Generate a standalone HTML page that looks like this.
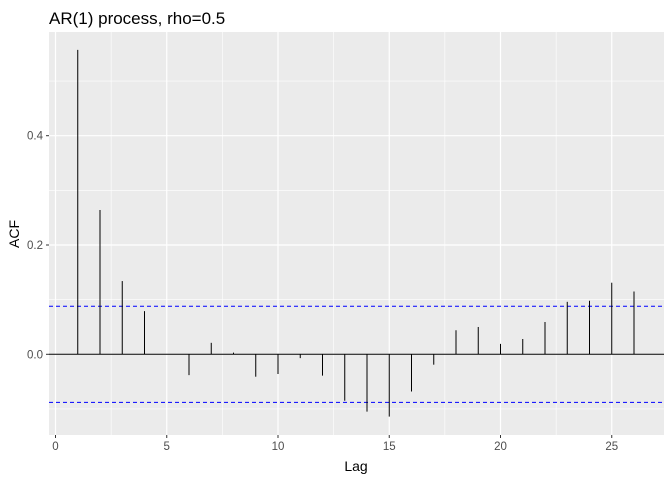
<!DOCTYPE html>
<html><head><meta charset="utf-8"><style>
body{margin:0;background:#fff;}
svg text{font-family:"Liberation Sans",Arial,sans-serif;}
</style></head><body>
<svg width="672" height="480" xmlns="http://www.w3.org/2000/svg">
<text x="49" y="24" font-size="17" fill="#000">AR(1) process, rho=0.5</text>
<rect x="49" y="32" width="615" height="403" fill="#ebebeb"/>
<g id="grid"></g>
<g id="marks"></g>
<g id="axes"></g>
<text x="356" y="471" font-size="14" text-anchor="middle">Lag</text>
<text transform="translate(19,234) rotate(-90)" font-size="14" text-anchor="middle">ACF</text>
</svg>
<script>
const lags=[1,2,3,4,5,6,7,8,9,10,11,12,13,14,15,16,17,18,19,20,21,22,23,24,25,26];
const acf=[0.557,0.264,0.134,0.079,0.0,-0.038,0.021,0.003,-0.041,-0.036,-0.007,-0.039,-0.085,-0.105,-0.114,-0.068,-0.019,0.044,0.05,0.019,0.028,0.059,0.096,0.098,0.131,0.115];
const ciBound=[0.088];
const xTicks=[0,5,10,15,20,25];
const yTicks=[0.0,0.2,0.4];
const yTickLabels=["0.0","0.2","0.4"];
const yMinor=[-0.1,0.1,0.3,0.5];
const xMinor=[2.5,7.5,12.5,17.5,22.5];
const NS='http://www.w3.org/2000/svg';
const L=49,R=664,T=32,B=435;
const xs=v=>55.5+v*22.25;
const ys=v=>354.3-v*546.5;
function mk(tag,attrs,parent){const e=document.createElementNS(NS,tag);for(const k in attrs)e.setAttribute(k,attrs[k]);document.getElementById(parent).appendChild(e);return e;}
xMinor.forEach(v=>{const e=mk('line',{x1:xs(v),x2:xs(v),y1:T,y2:B,stroke:'#fff','stroke-width':0.6},'grid');

});
yMinor.forEach(v=>{const e=mk('line',{x1:L,x2:R,y1:ys(v),y2:ys(v),stroke:'#fff','stroke-width':0.6},'grid');

});
xTicks.forEach(v=>{const e=mk('line',{x1:xs(v),x2:xs(v),y1:T,y2:B,stroke:'#fff','stroke-width':1.2},'grid');


const t=mk('line',{x1:xs(v),x2:xs(v),y1:B,y2:B+3,stroke:'#333','stroke-width':1},'axes');


const l=mk('text',{x:xs(v),y:B+15,'font-size':11.5,fill:'#4d4d4d','text-anchor':'middle'},'axes');l.textContent=String(v);

});
yTicks.forEach((v,i)=>{const e=mk('line',{x1:L,x2:R,y1:ys(v),y2:ys(v),stroke:'#fff','stroke-width':1.2},'grid');


const t=mk('line',{x1:L-3,x2:L,y1:ys(v),y2:ys(v),stroke:'#333','stroke-width':1},'axes');


const l=mk('text',{x:L-6,y:ys(v)+4,'font-size':11.5,fill:'#4d4d4d','text-anchor':'end'},'axes');l.textContent=yTickLabels[i];

});
const z=mk('line',{x1:L,x2:R,y1:ys(0),y2:ys(0),stroke:'#000','stroke-width':1},'marks');


[ciBound[0],-ciBound[0]].forEach(v=>{const e=mk('line',{x1:L,x2:R,y1:ys(v),y2:ys(v),stroke:'#0000ff','stroke-width':1,'stroke-dasharray':'4,3'},'marks');

});
lags.forEach((g,i)=>{const e=mk('line',{x1:xs(g),x2:xs(g),y1:ys(0),y2:ys(acf[i]),stroke:'#000','stroke-width':1},'marks');

});
</script>
</body></html>
